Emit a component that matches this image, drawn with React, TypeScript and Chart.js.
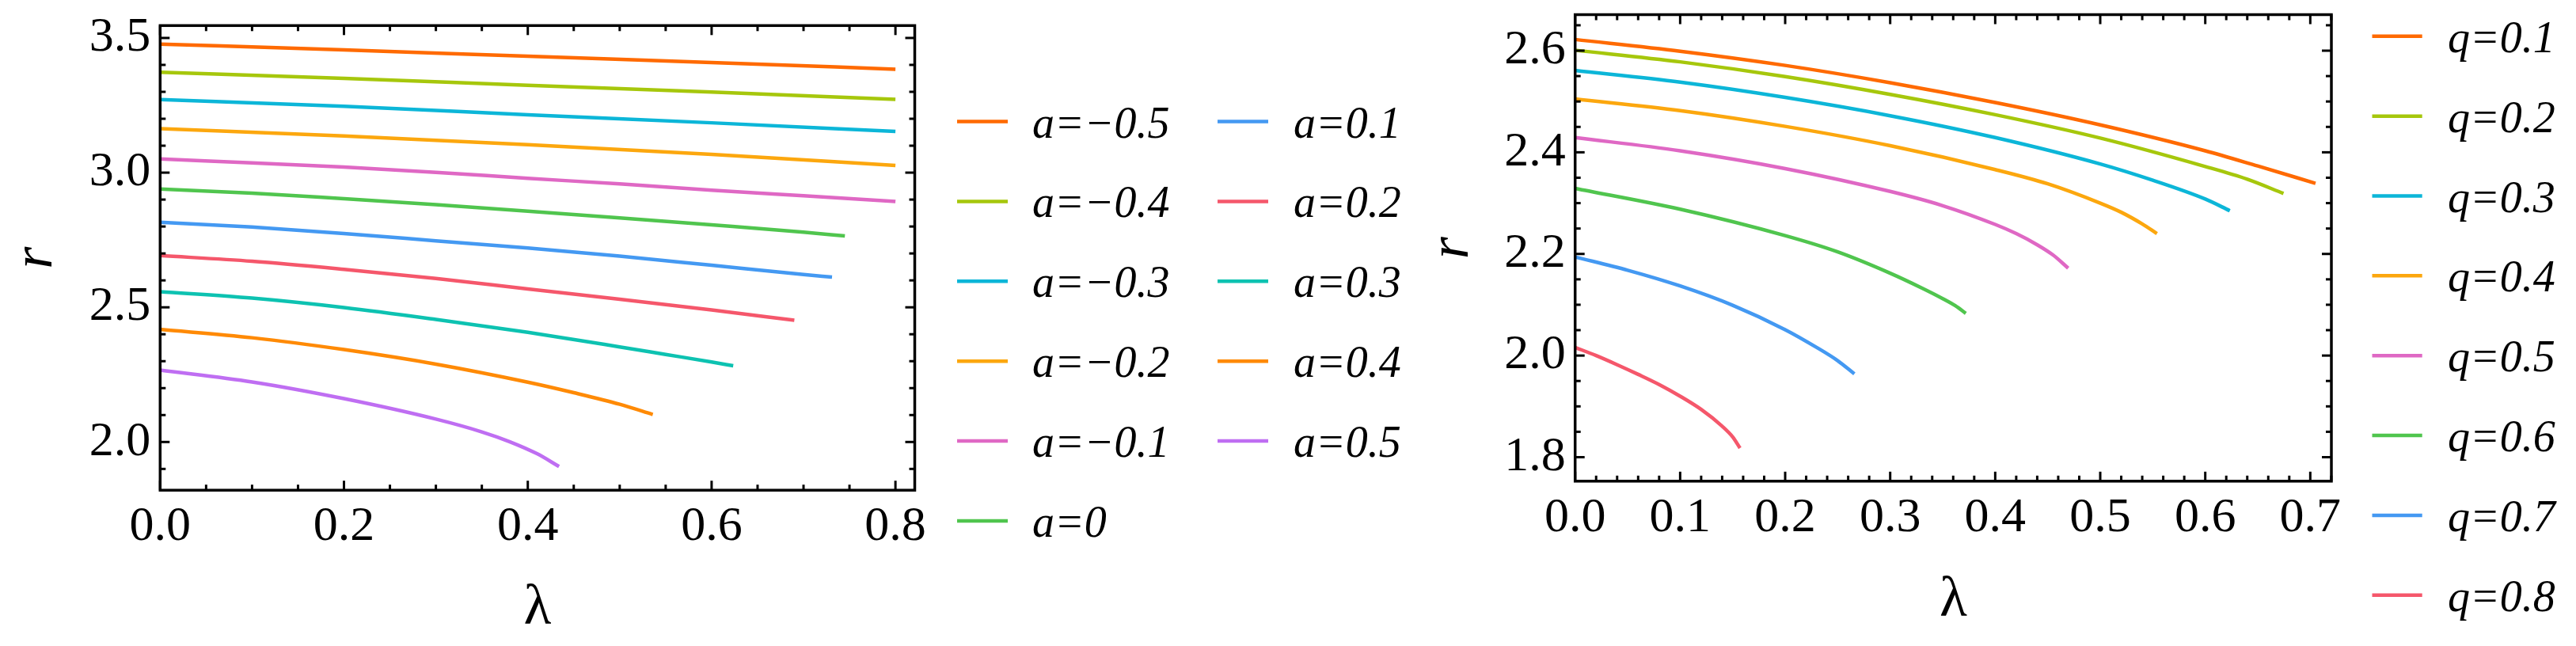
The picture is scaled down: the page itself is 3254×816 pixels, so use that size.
import React, { useEffect, useRef } from 'react';
import { Chart, registerables } from 'chart.js';

Chart.register(...registerables);

type Pt = [number, number];

// ---------- Left panel data: r versus λ for several a ----------
const A_N05: Pt[] = [[0, 3.477], [0.2, 3.456], [0.4, 3.432], [0.6, 3.409], [0.8, 3.384]];
const A_N04: Pt[] = [[0, 3.373], [0.2, 3.350], [0.4, 3.324], [0.6, 3.299], [0.8, 3.272]];
const A_N03: Pt[] = [[0, 3.271], [0.2, 3.246], [0.4, 3.215], [0.6, 3.185], [0.8, 3.153]];
const A_N02: Pt[] = [[0, 3.163], [0.2, 3.136], [0.4, 3.104], [0.6, 3.068], [0.8, 3.027]];
const A_N01: Pt[] = [[0, 3.051], [0.1, 3.036], [0.2, 3.021], [0.3, 3.001], [0.4, 2.979], [0.5, 2.958], [0.6, 2.935], [0.7, 2.914], [0.8, 2.893]];
const A_0: Pt[] = [[0, 2.939], [0.1, 2.924], [0.2, 2.903], [0.3, 2.881], [0.4, 2.857], [0.5, 2.832], [0.6, 2.806], [0.7, 2.779], [0.745, 2.765]];
const A_01: Pt[] = [[0, 2.816], [0.1, 2.798], [0.2, 2.774], [0.3, 2.747], [0.4, 2.720], [0.5, 2.690], [0.6, 2.656], [0.7, 2.622], [0.731, 2.612]];
const A_02: Pt[] = [[0, 2.692], [0.1, 2.671], [0.2, 2.641], [0.3, 2.607], [0.4, 2.568], [0.5, 2.530], [0.6, 2.490], [0.69, 2.452]];
const A_03: Pt[] = [[0, 2.558], [0.1, 2.534], [0.2, 2.499], [0.3, 2.455], [0.4, 2.407], [0.5, 2.353], [0.55, 2.325], [0.6, 2.297], [0.6235, 2.283]];
const A_04: Pt[] = [[0, 2.418], [0.1, 2.387], [0.2, 2.343], [0.3, 2.289], [0.4, 2.222], [0.45, 2.183], [0.5, 2.140], [0.536, 2.102]];
const A_05: Pt[] = [[0, 2.267], [0.1, 2.223], [0.2, 2.161], [0.3, 2.085], [0.35, 2.0375], [0.38, 2.0015], [0.41, 1.9565], [0.434, 1.909]];

const A_SERIES: Pt[][] = [A_N05, A_N04, A_N03, A_N02, A_N01, A_0, A_01, A_02, A_03, A_04, A_05];
const A_LABELS = ['a=\u22120.5', 'a=\u22120.4', 'a=\u22120.3', 'a=\u22120.2', 'a=\u22120.1', 'a=0', 'a=0.1', 'a=0.2', 'a=0.3', 'a=0.4', 'a=0.5'];

// ---------- Right panel data: r versus λ for several q ----------
const Q_01: Pt[] = [[0, 2.622], [0.1, 2.599], [0.2, 2.571], [0.3, 2.537], [0.4, 2.498], [0.5, 2.454], [0.6, 2.403], [0.65, 2.373], [0.705, 2.339]];
const Q_02: Pt[] = [[0, 2.601], [0.1, 2.578], [0.2, 2.549], [0.3, 2.514], [0.4, 2.474], [0.5, 2.428], [0.6, 2.372], [0.64, 2.347], [0.6745, 2.319]];
const Q_03: Pt[] = [[0, 2.561], [0.1, 2.538], [0.2, 2.508], [0.3, 2.472], [0.4, 2.429], [0.5, 2.377], [0.55, 2.345], [0.6, 2.308], [0.6234, 2.285]];
const Q_04: Pt[] = [[0, 2.505], [0.1, 2.482], [0.2, 2.451], [0.3, 2.413], [0.4, 2.366], [0.45, 2.338], [0.5, 2.300], [0.52, 2.282], [0.54, 2.259], [0.554, 2.240]];
const Q_05: Pt[] = [[0, 2.429], [0.1, 2.403], [0.2, 2.368], [0.3, 2.323], [0.35, 2.295], [0.4, 2.258], [0.42, 2.240], [0.44, 2.218], [0.455, 2.198], [0.4695, 2.172]];
const Q_06: Pt[] = [[0, 2.329], [0.1, 2.288], [0.2, 2.236], [0.25, 2.204], [0.3, 2.162], [0.33, 2.133], [0.35, 2.112], [0.362, 2.098], [0.372, 2.083]];
const Q_07: Pt[] = [[0, 2.194], [0.05, 2.168], [0.1, 2.137], [0.15, 2.099], [0.2, 2.051], [0.23, 2.016], [0.25, 1.990], [0.2659, 1.964]];
const Q_08: Pt[] = [[0, 2.016], [0.02, 2.000], [0.04, 1.982], [0.06, 1.963], [0.08, 1.943], [0.1, 1.920], [0.12, 1.894], [0.14, 1.861], [0.15, 1.840], [0.157, 1.818]];

const Q_SERIES: Pt[][] = [Q_01, Q_02, Q_03, Q_04, Q_05, Q_06, Q_07, Q_08];
const Q_LABELS = ['q=0.1', 'q=0.2', 'q=0.3', 'q=0.4', 'q=0.5', 'q=0.6', 'q=0.7', 'q=0.8'];

// ---------- Tick labels ----------
const LEFT_X_TICKS = [0, 0.2, 0.4, 0.6, 0.8];
const LEFT_Y_TICKS = [2.0, 2.5, 3.0, 3.5];
const RIGHT_X_TICKS = [0, 0.1, 0.2, 0.3, 0.4, 0.5, 0.6, 0.7];
const RIGHT_Y_TICKS = [1.8, 2.0, 2.2, 2.4, 2.6];

const COLORS = [
  '#FF6A00', '#A6C70C', '#0CB6D8', '#FCA70E', '#DF68C4', '#50C54E',
  '#4499F2', '#F5576B', '#0DC2B1', '#FF8A05', '#BF6EF2',
];

const SERIF = '"Liberation Serif", "Times New Roman", serif';

type LegendCol = { lineX0: number; lineX1: number; textX: number };
type Panel = {
  width: number;
  series: Pt[][];
  labels: string[];
  xTicks: number[];
  yTicks: number[];
  xMax: number;
  yMin: number;
  yMax: number;
  padTop: number;
  padRight: number;
  yAxisW: number;
  xAxisH: number;
  xMajor: number;
  xMinor: number;
  yMajor: number;
  yMinor: number;
  xTitlePad: number;
  yTitlePad: number;
  legendCols: LegendCol[];
  rowsPerCol: number;
  legendY0: number;
  legendDy: number;
};

const LEFT_PANEL: Panel = {
  width: 1790,
  series: A_SERIES,
  labels: A_LABELS,
  xTicks: LEFT_X_TICKS,
  yTicks: LEFT_Y_TICKS,
  xMax: 0.821,
  yMin: 1.821,
  yMax: 3.546,
  padTop: 32.3,
  padRight: 634.5,
  yAxisW: 202.3,
  xAxisH: 196.8,
  xMajor: 0.2,
  xMinor: 0.05,
  yMajor: 0.5,
  yMinor: 0.1,
  xTitlePad: 11,
  yTitlePad: 10.5,
  legendCols: [
    { lineX0: 1209, lineX1: 1273, textX: 1304 },
    { lineX0: 1538, lineX1: 1602, textX: 1634 },
  ],
  rowsPerCol: 6,
  legendY0: 153.5,
  legendDy: 100.9,
};

const RIGHT_PANEL: Panel = {
  width: 1464,
  series: Q_SERIES,
  labels: Q_LABELS,
  xTicks: RIGHT_X_TICKS,
  yTicks: RIGHT_Y_TICKS,
  xMax: 0.7201,
  yMin: 1.7528,
  yMax: 2.6709,
  padTop: 18.5,
  padRight: 309,
  yAxisW: 199.7,
  xAxisH: 208.2,
  xMajor: 0.1,
  xMinor: 0.02,
  yMajor: 0.2,
  yMinor: 0.05,
  xTitlePad: 21,
  yTitlePad: 8.6,
  legendCols: [{ lineX0: 1206.5, lineX1: 1269.7, textX: 1302 }],
  rowsPerCol: 8,
  legendY0: 45.8,
  legendDy: 100.85,
};

function isMultiple(v: number, step: number) {
  const q = v / step;
  return Math.abs(q - Math.round(q)) < 1e-6;
}

function makeFramePlugin(p: Panel) {
  return {
    id: 'frameTicks',
    afterDatasetsDraw(chart: any) {
      const { ctx, chartArea } = chart;
      const { left, right, top, bottom } = chartArea;
      const xs = chart.scales.x;
      const ys = chart.scales.y;
      ctx.save();
      ctx.strokeStyle = '#000';
      ctx.lineCap = 'butt';
      ctx.lineWidth = 3;
      const seg = (x0: number, y0: number, x1: number, y1: number) => {
        ctx.beginPath();
        ctx.moveTo(x0, y0);
        ctx.lineTo(x1, y1);
        ctx.stroke();
      };
      const MAJ = 12;
      const MIN = 7;
      for (let k = Math.ceil(xs.min / p.xMinor - 1e-9); k * p.xMinor <= xs.max + 1e-9; k++) {
        const v = k * p.xMinor;
        const len = isMultiple(v, p.xMajor) ? MAJ : MIN;
        const px = xs.getPixelForValue(v);
        seg(px, bottom, px, bottom - len);
        seg(px, top, px, top + len);
      }
      for (let k = Math.ceil(ys.min / p.yMinor - 1e-9); k * p.yMinor <= ys.max + 1e-9; k++) {
        const v = k * p.yMinor;
        const len = isMultiple(v, p.yMajor) ? MAJ : MIN;
        const py = ys.getPixelForValue(v);
        seg(left, py, left + len, py);
        seg(right, py, right - len, py);
      }
      ctx.lineWidth = 3.5;
      ctx.strokeRect(left, top, right - left, bottom - top);
      ctx.restore();
    },
  };
}

function makeLegendPlugin(p: Panel) {
  return {
    id: 'sideLegend',
    afterDraw(chart: any) {
      const { ctx } = chart;
      ctx.save();
      chart.data.datasets.forEach((ds: any, i: number) => {
        const col = p.legendCols[Math.floor(i / p.rowsPerCol)];
        const row = i % p.rowsPerCol;
        const y = p.legendY0 + row * p.legendDy;
        ctx.strokeStyle = ds.borderColor;
        ctx.lineWidth = 4.5;
        ctx.lineCap = 'butt';
        ctx.beginPath();
        ctx.moveTo(col.lineX0, y);
        ctx.lineTo(col.lineX1, y);
        ctx.stroke();
        ctx.fillStyle = '#000';
        ctx.font = `italic 56px ${SERIF}`;
        ctx.textAlign = 'left';
        ctx.textBaseline = 'alphabetic';
        ctx.fillText(ds.label, col.textX, y + 20);
      });
      ctx.restore();
    },
  };
}

function buildConfig(p: Panel): any {
  const tickFont = { family: SERIF, size: 62, lineHeight: 1 };
  return {
    type: 'line',
    data: {
      datasets: p.series.map((pts, i) => ({
        label: p.labels[i],
        data: pts.map(([x, y]) => ({ x, y })),
        borderColor: COLORS[i],
        backgroundColor: COLORS[i],
        borderWidth: 4.5,
        pointRadius: 0,
        pointHoverRadius: 0,
        fill: false,
        cubicInterpolationMode: 'monotone',
        borderCapStyle: 'butt',
      })),
    },
    options: {
      responsive: false,
      maintainAspectRatio: false,
      animation: false,
      events: [],
      layout: { padding: { top: p.padTop, right: p.padRight, bottom: 0, left: 0 } },
      plugins: {
        legend: { display: false },
        tooltip: { enabled: false },
        title: { display: false },
      },
      scales: {
        x: {
          type: 'linear',
          min: 0,
          max: p.xMax,
          grid: { display: false, drawTicks: false },
          border: { display: false },
          ticks: {
            padding: 16,
            color: '#000',
            font: tickFont,
            maxRotation: 0,
            autoSkip: false,
            callback: (v: any) => Number(v).toFixed(1),
          },
          afterBuildTicks: (s: any) => {
            s.ticks = p.xTicks.map((v) => ({ value: v }));
          },
          afterFit: (s: any) => {
            s.height = p.xAxisH;
            s.paddingLeft = 0;
            s.paddingRight = 0;
          },
          title: {
            display: true,
            text: '\u03bb',
            color: '#000',
            font: { family: SERIF, size: 72, lineHeight: 1 },
            padding: { top: 0, bottom: p.xTitlePad },
          },
        },
        y: {
          type: 'linear',
          min: p.yMin,
          max: p.yMax,
          grid: { display: false, drawTicks: false },
          border: { display: false },
          ticks: {
            padding: 12,
            color: '#000',
            font: tickFont,
            autoSkip: false,
            callback: (v: any) => Number(v).toFixed(1),
          },
          afterBuildTicks: (s: any) => {
            s.ticks = p.yTicks.map((v) => ({ value: v }));
          },
          afterFit: (s: any) => {
            s.width = p.yAxisW;
            s.paddingTop = 0;
            s.paddingBottom = 0;
          },
          title: {
            display: true,
            text: 'r',
            color: '#000',
            font: { family: SERIF, size: 72, style: 'italic', lineHeight: 1 },
            padding: { top: p.yTitlePad, bottom: 0 },
          },
        },
      },
    },
    plugins: [makeFramePlugin(p), makeLegendPlugin(p)],
  };
}

function PanelCanvas({ panel, left }: { panel: Panel; left: number }) {
  const ref = useRef<HTMLCanvasElement | null>(null);
  useEffect(() => {
    if (!ref.current) return;
    const chart = new Chart(ref.current, buildConfig(panel));
    let alive = true;
    const fonts = (document as any).fonts;
    if (fonts && fonts.load) {
      Promise.all([
        fonts.load(`62px ${SERIF}`),
        fonts.load(`italic 56px ${SERIF}`),
      ]).then(() => {
        if (alive) chart.update();
      }).catch(() => {});
    }
    return () => {
      alive = false;
      chart.destroy();
    };
  }, [panel]);
  return (
    <canvas
      ref={ref}
      width={panel.width}
      height={816}
      style={{ position: 'absolute', left, top: 0, width: panel.width, height: 816 }}
    />
  );
}

export default function App() {
  return (
    <div
      style={{
        position: 'fixed',
        left: 0,
        top: 0,
        width: 3254,
        height: 816,
        background: '#fff',
        overflow: 'hidden',
      }}
    >
      <PanelCanvas panel={LEFT_PANEL} left={0} />
      <PanelCanvas panel={RIGHT_PANEL} left={1790} />
    </div>
  );
}
